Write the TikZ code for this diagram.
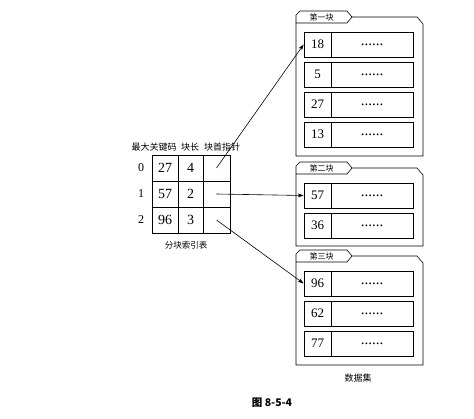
\documentclass[tikz,border=0pt]{standalone}
\usepackage{fontspec}
\setmainfont{Liberation Serif}
\newfontfamily\cjk{Noto Sans CJK SC}
\usetikzlibrary{arrows.meta}
\tikzset{
  cell/.style={draw, line width=0.7pt, inner sep=0pt, font=\fontsize{14}{14}\selectfont},
  keycell/.style={draw, line width=0.7pt, inner sep=0pt, minimum width=27pt, minimum height=25pt, font=\fontsize{13}{13}\selectfont},
  dotcell/.style={draw, line width=0.7pt, inner sep=0pt, minimum width=82pt, minimum height=25pt, font=\fontsize{15}{15}\selectfont},
  folder/.style={draw, line width=0.6pt},
  lbl/.style={inner sep=0pt, font=\cjk\fontsize{9}{9}\selectfont},
  tablbl/.style={inner sep=0pt, font=\cjk\fontsize{8}{8}\selectfont},
  ptr/.style={line width=0.6pt, -{Stealth[length=6pt, width=4pt]}},
  idx/.style={inner sep=0pt, font=\fontsize{12}{12}\selectfont}
}
\newcommand{\folderbox}[3]{% #1 tab top y, #2 bottom y, #3 label
  \draw[folder] (296,#1+12) -- (296,#1+4) -- (300,#1) -- (347,#1) -- (352,#1+6) -- (347,#1+12) -- cycle;
  \draw[folder] (296,#1+12) -- (296,#2) -- (423,#2) -- (423,#1+13) -- (417,#1+6) -- (352,#1+6);
  \node[tablbl] at (321.5,#1+6.5) {#3};
}
\begin{document}
\begin{tikzpicture}[x=1pt,y=-1pt]
\useasboundingbox (0,0) rectangle (474,419);

% index table header
\node[lbl] (h1) at (154,147) {最大关键码};
\node[lbl] (h2) at (190,147) {块长};
\node[lbl] (h3) at (222,147) {块首指针};

% index table cells
\node[cell, minimum width=26pt, minimum height=26pt] (k0) at (165,168) {27};
\node[cell, minimum width=25pt, minimum height=26pt] (l0) at (190.5,168) {4};
\node[cell, minimum width=27pt, minimum height=26pt] (p0) at (216.5,168) {};
\node[cell, minimum width=26pt, minimum height=26pt] (k1) at (165,194) {57};
\node[cell, minimum width=25pt, minimum height=26pt] (l1) at (190.5,194) {2};
\node[cell, minimum width=27pt, minimum height=26pt] (p1) at (216.5,194) {};
\node[cell, minimum width=26pt, minimum height=26pt] (k2) at (165,220) {96};
\node[cell, minimum width=25pt, minimum height=26pt] (l2) at (190.5,220) {3};
\node[cell, minimum width=27pt, minimum height=26pt] (p2) at (216.5,220) {};

\node[idx] (i0) at (141,168) {0};
\node[idx] (i1) at (141,194) {1};
\node[idx] (i2) at (141,220) {2};

\node[lbl, font=\cjk\fontsize{8.5}{8.5}\selectfont] (tname) at (186,245) {分块索引表};

% block 1
\folderbox{11}{156}{第一块}
\node[keycell] (a1) at (317.5,44.5) {18};
\node[dotcell] (d1) at (372,44.5) {......};
\node[keycell] (a2) at (317.5,74.5) {5};
\node[dotcell] (d2) at (372,74.5) {......};
\node[keycell] (a3) at (317.5,104.5) {27};
\node[dotcell] (d3) at (372,104.5) {......};
\node[keycell] (a4) at (317.5,134.5) {13};
\node[dotcell] (d4) at (372,134.5) {......};

% block 2
\folderbox{162}{246}{第二块}
\node[keycell] (b1) at (317.5,195.5) {57};
\node[dotcell] (e1) at (372,195.5) {......};
\node[keycell] (b2) at (317.5,225.5) {36};
\node[dotcell] (e2) at (372,225.5) {......};

% block 3
\folderbox{250}{365}{第三块}
\node[keycell] (c1) at (317.5,283.5) {96};
\node[dotcell] (f1) at (372,283.5) {......};
\node[keycell] (c2) at (317.5,313.5) {62};
\node[dotcell] (f2) at (372,313.5) {......};
\node[keycell] (c3) at (317.5,343.5) {77};
\node[dotcell] (f3) at (372,343.5) {......};

\node[lbl] (dname) at (358,378) {数据集};

% pointers
\draw[ptr] (p0.center) -- (a1.west);
\draw[ptr] (p1.center) -- (b1.west);
\draw[ptr] (p2.center) -- (c1.west);

% caption
\node[inner sep=0pt, font=\cjk\bfseries\fontsize{10.5}{10.5}\selectfont] (cap) at (272,403) {图 8-5-4};
\end{tikzpicture}
\end{document}
